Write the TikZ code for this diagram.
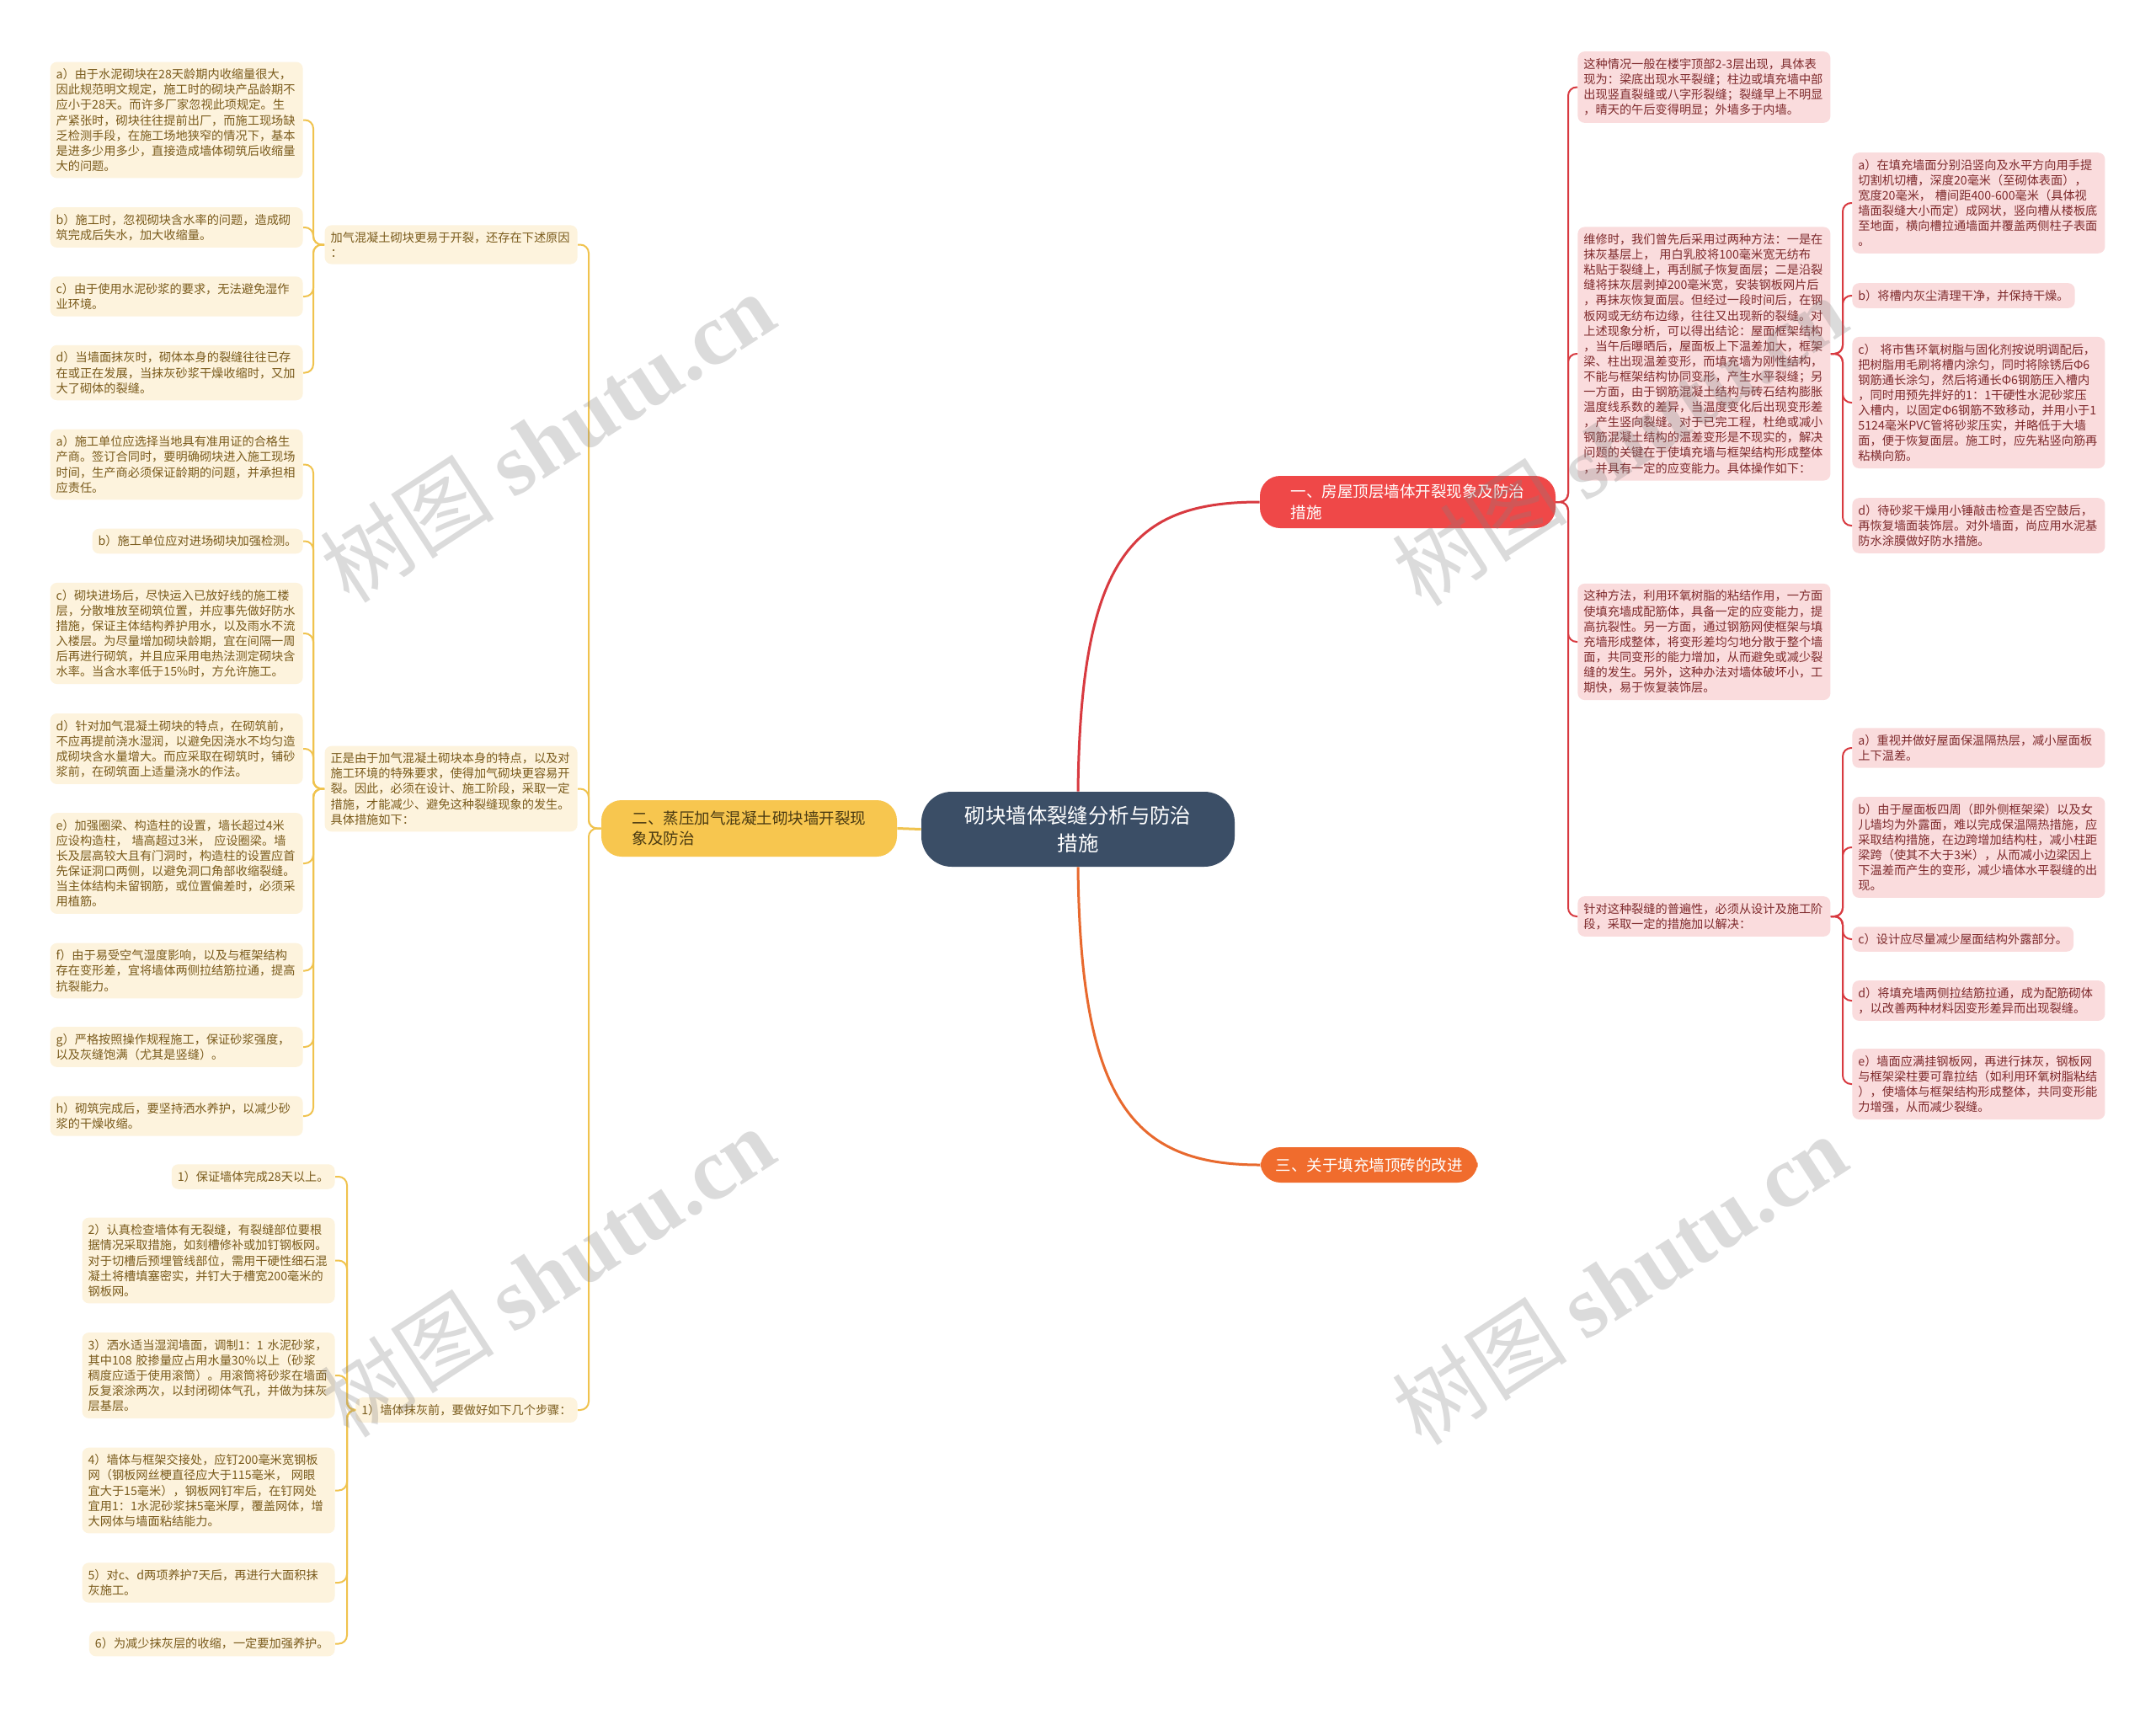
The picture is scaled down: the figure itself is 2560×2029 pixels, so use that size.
\documentclass[tikz,border=0pt]{standalone}
\usepackage{fontspec}
\setmainfont{Noto Sans CJK SC}
\newfontfamily\wmserif{Liberation Serif}
\usetikzlibrary{calc}
\definecolor{cblue}{HTML}{3B4E66}
\definecolor{bred}{HTML}{EF4848}
\definecolor{byel}{HTML}{F7C64F}
\definecolor{bora}{HTML}{F06C2D}
\definecolor{lred}{HTML}{D83A40}
\definecolor{lyel}{HTML}{F0C34E}
\definecolor{lora}{HTML}{E8692E}
\definecolor{lfill}{HTML}{FDF3DD}
\definecolor{ltext}{HTML}{7A5B1C}
\definecolor{rfill}{HTML}{FADCDD}
\definecolor{rtext}{HTML}{7E2A2C}
\definecolor{btext}{HTML}{4A3A12}
\newcommand\bxfont{\fontsize{7.1pt}{9.05pt}\selectfont}
\newcommand\brfont{\fontsize{9.25pt}{12.2pt}\selectfont}
\newcommand\cfont{\fontsize{12.2pt}{16.3pt}\selectfont}
\begin{document}
\begin{tikzpicture}[x=0.5pt,y=-0.5pt,
 base/.style={rounded corners=4pt, inner xsep=3.5pt, inner ysep=4pt, align=left, font=\bxfont},
 lb/.style={base, fill=lfill, text=ltext},
 lbw/.style={lb, text width=143pt},
 rb/.style={base, fill=rfill, text=rtext},
 rbw/.style={rb, text width=143pt},
 ll/.style={draw=lyel, line width=1pt, rounded corners=5pt},
 rl/.style={draw=lred, line width=1pt, rounded corners=5pt},
 wm/.style={text=gray, opacity=0.28, font=\fontsize{52pt}{52pt}\selectfont, rotate=33},
 centralbox/.style={fill=cblue, text=white, rounded corners=18pt, minimum width=186pt, minimum height=44.5pt, align=center, font=\cfont},
 branchbox/.style={rounded corners=12pt, align=left, font=\brfont, inner ysep=4.5pt},
]
\fill[white] (0,0) rectangle (2560,2029);
\useasboundingbox (0,0) rectangle (2560,2029);

% spine coordinates
\coordinate (SR1) at (1862,0);
\coordinate (SR2) at (2188,0);
\coordinate (SL0) at (699,0);
\coordinate (SL1) at (372,0);
\coordinate (SL3) at (412,0);

% central and main branches
\node[centralbox] (C) at (1280,984.5) {砌块墙体裂缝分析与防治\\措施};
\node[branchbox, fill=bred, text=white, minimum width=175.5pt, minimum height=31pt] (B1) at (1671.5,596) {一、房屋顶层墙体开裂现象及防治\\措施};
\node[branchbox, fill=byel, text=btext, minimum width=175.5pt, minimum height=33.5pt] (B2) at (889.5,983.5) {二、蒸压加气混凝土砌块墙开裂现\\象及防治};
\node[branchbox, fill=bora, text=white, inner xsep=9pt, minimum height=21pt] (B3) at (1625.5,1383) {三、关于填充墙顶砖的改进};

\draw[draw=lred, line width=1.5pt] (C.north) .. controls ($(C.north)+(3,-280)$) and ($(B1.west)+(-150,0)$) .. (B1.west);
\draw[draw=lora, line width=1.5pt] (C.south) .. controls ($(C.south)+(3,280)$) and ($(B3.west)+(-150,0)$) .. (B3.west);
\draw[draw=lyel, line width=1.5pt] (C.west) -- (B2.east);

% ---------- right side ----------
\node[rbw, anchor=west] (R1a) at (1873,103.5) {这种情况一般在楼宇顶部2-3层出现，具体表\\现为：梁底出现水平裂缝；柱边或填充墙中部\\出现竖直裂缝或八字形裂缝；裂缝早上不明显\\，晴天的午后变得明显；外墙多于内墙。};
\node[rbw, anchor=west] (R1b) at (1873,420) {维修时，我们曾先后采用过两种方法：一是在\\抹灰基层上，~用白乳胶将100毫米宽无纺布\\粘贴于裂缝上，再刮腻子恢复面层；二是沿裂\\缝将抹灰层剥掉200毫米宽，安装钢板网片后\\，再抹灰恢复面层。但经过一段时间后，在钢\\板网或无纺布边缘，往往又出现新的裂缝。对\\上述现象分析，可以得出结论：屋面框架结构\\，当午后曝晒后，屋面板上下温差加大，框架\\梁、柱出现温差变形，而填充墙为刚性结构，\\不能与框架结构协同变形，产生水平裂缝；另\\一方面，由于钢筋混凝土结构与砖石结构膨胀\\温度线系数的差异，当温度变化后出现变形差\\，产生竖向裂缝。对于已完工程，杜绝或减小\\钢筋混凝土结构的温差变形是不现实的，解决\\问题的关键在于使填充墙与框架结构形成整体\\，并具有一定的应变能力。具体操作如下：};
\node[rbw, anchor=west] (R1c) at (1873,762) {这种方法，利用环氧树脂的粘结作用，一方面\\使填充墙成配筋体，具备一定的应变能力，提\\高抗裂性。另一方面，通过钢筋网使框架与填\\充墙形成整体，将变形差均匀地分散于整个墙\\面，共同变形的能力增加，从而避免或减少裂\\缝的发生。另外，这种办法对墙体破坏小，工\\期快，易于恢复装饰层。};
\node[rbw, anchor=west] (R1d) at (1873,1088) {针对这种裂缝的普遍性，必须从设计及施工阶\\段，采取一定的措施加以解决：};

\node[rbw, anchor=west] (R2a) at (2199,241) {a）在填充墙面分别沿竖向及水平方向用手提\\切割机切槽，深度20毫米（至砌体表面），\\宽度20毫米，~槽间距400-600毫米（具体视\\墙面裂缝大小而定）成网状，竖向槽从楼板底\\至地面，横向槽拉通墙面并覆盖两侧柱子表面\\。};
\node[rb, anchor=west] (R2b) at (2199,351) {b）将槽内灰尘清理干净，并保持干燥。};
\node[rbw, anchor=west] (R2c) at (2199,478) {c）~将市售环氧树脂与固化剂按说明调配后，\\把树脂用毛刷将槽内涂匀，同时将除锈后Φ6\\钢筋通长涂匀，然后将通长Φ6钢筋压入槽内\\，同时用预先拌好的1：1干硬性水泥砂浆压\\入槽内，以固定Φ6钢筋不致移动，并用小于1\\5124毫米PVC管将砂浆压实，并略低于大墙\\面，便于恢复面层。施工时，应先粘竖向筋再\\粘横向筋。};
\node[rbw, anchor=west] (R2d) at (2199,624) {d）待砂浆干燥用小锤敲击检查是否空鼓后，\\再恢复墙面装饰层。对外墙面，尚应用水泥基\\防水涂膜做好防水措施。};

\node[rbw, anchor=west] (R3a) at (2199,888) {a）重视并做好屋面保温隔热层，减小屋面板\\上下温差。};
\node[rbw, anchor=west] (R3b) at (2199,1006) {b）由于屋面板四周（即外侧框架梁）以及女\\儿墙均为外露面，难以完成保温隔热措施，应\\采取结构措施，在边跨增加结构柱，减小柱距\\梁跨（使其不大于3米），从而减小边梁因上\\下温差而产生的变形，减少墙体水平裂缝的出\\现。};
\node[rb, anchor=west] (R3c) at (2199,1115) {c）设计应尽量减少屋面结构外露部分。};
\node[rbw, anchor=west] (R3d) at (2199,1188) {d）将填充墙两侧拉结筋拉通，成为配筋砌体\\，以改善两种材料因变形差异而出现裂缝。};
\node[rbw, anchor=west] (R3e) at (2199,1287) {e）墙面应满挂钢板网，再进行抹灰，钢板网\\与框架梁柱要可靠拉结（如利用环氧树脂粘结\\），使墙体与框架结构形成整体，共同变形能\\力增强，从而减少裂缝。};

\foreach \n in {R1a,R1b,R1c,R1d}{\draw[rl] (B1.east) -| (\n.west -| SR1) -- (\n.west);}
\foreach \n in {R2a,R2b,R2c,R2d}{\draw[rl] (R1b.east) -| (\n.west -| SR2) -- (\n.west);}
\foreach \n in {R3a,R3b,R3c,R3d,R3e}{\draw[rl] (R1d.east) -| (\n.west -| SR2) -- (\n.west);}

% ---------- left side ----------
\node[lbw, anchor=east] (L1) at (686,290.5) {加气混凝土砌块更易于开裂，还存在下述原因\\：};
\node[lbw, anchor=east] (L2) at (686,936.5) {正是由于加气混凝土砌块本身的特点，以及对\\施工环境的特殊要求，使得加气砌块更容易开\\裂。因此，必须在设计、施工阶段，采取一定\\措施，才能减少、避免这种裂缝现象的发生。\\具体措施如下：};
\node[lb, anchor=east] (L3) at (686,1674) {1）墙体抹灰前，要做好如下几个步骤：};

\node[lbw, anchor=east] (G1a) at (360,142.5) {a）由于水泥砌块在28天龄期内收缩量很大，\\因此规范明文规定，施工时的砌块产品龄期不\\应小于28天。而许多厂家忽视此项规定。生\\产紧张时，砌块往往提前出厂，而施工现场缺\\乏检测手段，在施工场地狭窄的情况下，基本\\是进多少用多少，直接造成墙体砌筑后收缩量\\大的问题。};
\node[lbw, anchor=east] (G1b) at (360,270) {b）施工时，忽视砌块含水率的问题，造成砌\\筑完成后失水，加大收缩量。};
\node[lbw, anchor=east] (G1c) at (360,352) {c）由于使用水泥砂浆的要求，无法避免湿作\\业环境。};
\node[lbw, anchor=east] (G1d) at (360,442.5) {d）当墙面抹灰时，砌体本身的裂缝往往已存\\在或正在发展，当抹灰砂浆干燥收缩时，又加\\大了砌体的裂缝。};

\node[lbw, anchor=east] (G2a) at (360,551.5) {a）施工单位应选择当地具有准用证的合格生\\产商。签订合同时，要明确砌块进入施工现场\\时间，生产商必须保证龄期的问题，并承担相\\应责任。};
\node[lb, anchor=east] (G2b) at (360,642.5) {b）施工单位应对进场砌块加强检测。};
\node[lbw, anchor=east] (G2c) at (360,752) {c）砌块进场后，尽快运入已放好线的施工楼\\层，分散堆放至砌筑位置，并应事先做好防水\\措施，保证主体结构养护用水，以及雨水不流\\入楼层。为尽量增加砌块龄期，宜在间隔一周\\后再进行砌筑，并且应采用电热法测定砌块含\\水率。当含水率低于15\%时，方允许施工。};
\node[lbw, anchor=east] (G2d) at (360,889) {d）针对加气混凝土砌块的特点，在砌筑前，\\不应再提前浇水湿润，以避免因浇水不均匀造\\成砌块含水量增大。而应采取在砌筑时，铺砂\\浆前，在砌筑面上适量浇水的作法。};
\node[lbw, anchor=east] (G2e) at (360,1025) {e）加强圈梁、构造柱的设置，墙长超过4米\\应设构造柱，~墙高超过3米，~应设圈梁。墙\\长及层高较大且有门洞时，构造柱的设置应首\\先保证洞口两侧，以避免洞口角部收缩裂缝。\\当主体结构未留钢筋，或位置偏差时，必须采\\用植筋。};
\node[lbw, anchor=east] (G2f) at (360,1152.5) {f）由于易受空气湿度影响，以及与框架结构\\存在变形差，宜将墙体两侧拉结筋拉通，提高\\抗裂能力。};
\node[lbw, anchor=east] (G2g) at (360,1243) {g）严格按照操作规程施工，保证砂浆强度，\\以及灰缝饱满（尤其是竖缝）。};
\node[lbw, anchor=east] (G2h) at (360,1325) {h）砌筑完成后，要坚持洒水养护，以减少砂\\浆的干燥收缩。};

\node[lb, anchor=east] (G3a) at (398,1397) {1）保证墙体完成28天以上。};
\node[lbw, anchor=east] (G3b) at (398,1496.5) {2）认真检查墙体有无裂缝，有裂缝部位要根\\据情况采取措施，如刻槽修补或加钉钢板网。\\对于切槽后预埋管线部位，需用干硬性细石混\\凝土将槽填塞密实，并钉大于槽宽200毫米的\\钢板网。};
\node[lbw, anchor=east] (G3c) at (398,1633) {3）洒水适当湿润墙面，调制1：1~水泥砂浆，\\其中108~胶掺量应占用水量30\%以上（砂浆\\稠度应适于使用滚筒）。用滚筒将砂浆在墙面\\反复滚涂两次，以封闭砌体气孔，并做为抹灰\\层基层。};
\node[lbw, anchor=east] (G3d) at (398,1769.5) {4）墙体与框架交接处，应钉200毫米宽钢板\\网（钢板网丝梗直径应大于115毫米，~网眼\\宜大于15毫米），钢板网钉牢后，在钉网处\\宜用1：1水泥砂浆抹5毫米厚，覆盖网体，增\\大网体与墙面粘结能力。};
\node[lbw, anchor=east] (G3e) at (398,1879) {5）对c、d两项养护7天后，再进行大面积抹\\灰施工。};
\node[lb, anchor=east] (G3f) at (398,1951.5) {6）为减少抹灰层的收缩，一定要加强养护。};

\foreach \n in {L1,L2,L3}{\draw[ll] (B2.west) -| (\n.east -| SL0) -- (\n.east);}
\foreach \n in {G1a,G1b,G1c,G1d}{\draw[ll] (L1.west) -| (\n.east -| SL1) -- (\n.east);}
\foreach \n in {G2a,G2b,G2c,G2d,G2e,G2f,G2g,G2h}{\draw[ll] (L2.west) -| (\n.east -| SL1) -- (\n.east);}
\foreach \n in {G3a,G3b,G3c,G3d,G3e,G3f}{\draw[ll] (L3.west) -| (\n.east -| SL3) -- (\n.east);}

% watermarks
\node[wm] (wm1) at (650,519) {树图 {\wmserif\bfseries shutu.cn}};
\node[wm] (wm2) at (650,1510) {树图 {\wmserif\bfseries shutu.cn}};
\node[wm] (wm3) at (1923,1519) {树图 {\wmserif\bfseries shutu.cn}};
\node[wm] (wm4) at (1923,523) {树图 {\wmserif\bfseries shutu.cn}};
\end{tikzpicture}
\end{document}
